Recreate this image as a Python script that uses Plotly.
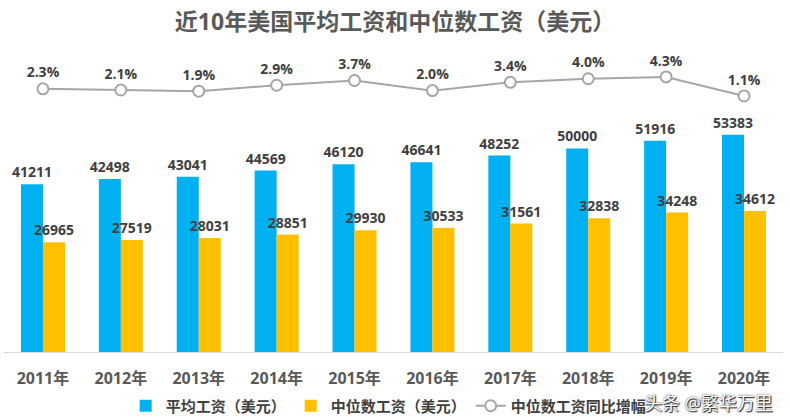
import plotly.graph_objects as go

years = ["2011年", "2012年", "2013年", "2014年", "2015年", "2016年", "2017年", "2018年", "2019年", "2020年"]
avg_wage = [41211, 42498, 43041, 44569, 46120, 46641, 48252, 50000, 51916, 53383]
median_wage = [26965, 27519, 28031, 28851, 29930, 30533, 31561, 32838, 34248, 34612]
median_growth = [2.3, 2.1, 1.9, 2.9, 3.7, 2.0, 3.4, 4.0, 4.3, 1.1]

FONT = "Open Sans, Noto Sans CJK SC, sans-serif"
W, H = 790, 420

def fy(px):
    return (H - px) / H

fig = go.Figure()
fig.add_trace(go.Bar(
    x=years, y=avg_wage, name="平均工资（美元）",
    marker=dict(color="#00B0F0", line=dict(width=0)),
    text=[str(v) for v in avg_wage], textposition="outside",
    textfont=dict(family=FONT, size=14, color="#404040", weight="bold"),
    constraintext="none", cliponaxis=False,
))
fig.add_trace(go.Bar(
    x=years, y=median_wage, name="中位数工资（美元）",
    marker=dict(color="#FFC000", line=dict(width=0)),
    text=[str(v) for v in median_wage], textposition="outside",
    textfont=dict(family=FONT, size=14, color="#404040", weight="bold"),
    constraintext="none", cliponaxis=False,
))
fig.add_trace(go.Scatter(
    x=years, y=median_growth, name="中位数工资同比增幅", yaxis="y2",
    mode="lines+markers+text",
    line=dict(color="#A6A6A6", width=2),
    marker=dict(symbol="circle", size=11, color="white", line=dict(color="#A6A6A6", width=2)),
    text=[f"{v:.1f}%" for v in median_growth], textposition="top center",
    textfont=dict(family=FONT, size=14, color="#404040", weight="bold"),
    cliponaxis=False,
))

fig.update_layout(
    width=W, height=H,
    margin=dict(l=0, r=0, t=0, b=0, autoexpand=False),
    paper_bgcolor="white", plot_bgcolor="white",
    barmode="group", bargap=0.435, bargroupgap=0,
    title=dict(text="近10年美国平均工资和中位数工资（美元）", x=0.5, xanchor="center",
               y=fy(22), yanchor="middle",
               font=dict(family=FONT, size=23, color="#595959", weight="bold")),
    xaxis=dict(domain=[4 / W, 783 / W], range=[-0.5, 9.5], showgrid=False, showline=True,
               linecolor="#D9D9D9", linewidth=1, ticks="",
               tickfont=dict(family=FONT, size=16, color="#595959", weight="bold"),
               ticklabelstandoff=12),
    yaxis=dict(domain=[fy(352), fy(120)], range=[0, 57000], visible=False, showgrid=False),
    yaxis2=dict(domain=[fy(110), fy(60)], range=[-1.26, 7.15], visible=False, showgrid=False,
                anchor="x"),
    legend=dict(orientation="h", x=0.492, xanchor="center", y=fy(406), yanchor="middle",
                font=dict(family=FONT, size=15, color="#404040", weight="bold"),
                itemwidth=30, tracegroupgap=0),
    showlegend=True,
    annotations=[dict(text="头条 @繁华万里", x=775 / W, y=fy(403), xref="paper", yref="paper",
                      xanchor="right", yanchor="middle", showarrow=False,
                      font=dict(family=FONT, size=18, color="white",
                                shadow="0px 0px 2px #222, 1px 1px 1px #222"))],
)

fig.write_html("out.html", config={"displayModeBar": False},
               post_script="document.body.style.margin='0';document.body.style.padding='0';")
